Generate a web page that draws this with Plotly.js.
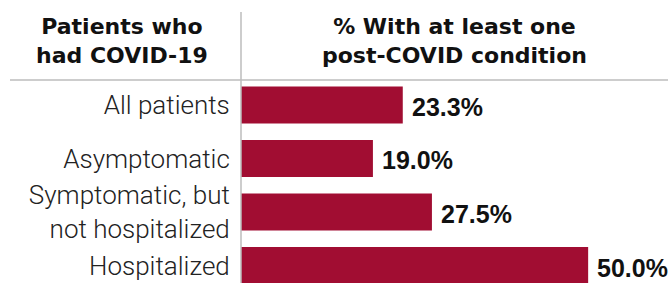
<!DOCTYPE html>
<html>
<head>
<meta charset="utf-8">
<script src="https://cdn.plot.ly/plotly-3.0.1.min.js"></script>
<style>html,body{margin:0;padding:0;background:#fff;}#chart{width:668px;height:283px;}</style>
</head>
<body>
<div id="chart"></div>
<script>
const categories = ["All patients", "Asymptomatic", "Symptomatic, but<br>not hospitalized", "Hospitalized"];
const values = [23.3, 19.0, 27.5, 50.0];
const valueLabels = ["23.3%", "19.0%", "27.5%", "50.0%"];
const leftHeader = "Patients who<br>had COVID-19";
const rightHeader = "% With at least one<br>post-COVID condition";

const barColor = "#A10D32";
const lineColor = "#bcbcbc";

const trace = {
  type: "bar",
  orientation: "h",
  x: values,
  y: categories,
  width: 0.69,
  marker: {color: barColor, line: {width: 0}},
  hoverinfo: "none"
};

const annotations = values.map((v, i) => ({
  x: v, y: categories[i], xref: "x", yref: "y",
  text: "<b>" + valueLabels[i] + "</b>",
  showarrow: false, xanchor: "left", yanchor: "middle", xshift: 7, yshift: -2,
  font: {family: "Liberation Sans, Arial, sans-serif", size: 25, color: "#111"}
}));

const headerFont = {family: "DejaVu Sans, sans-serif", size: 22, color: "#111"};
annotations.push({
  x: -0.278, y: 1, xref: "paper", yref: "paper",
  text: "<b>" + leftHeader + "</b>", showarrow: false,
  xanchor: "center", yanchor: "middle", yshift: 39, align: "center",
  font: headerFont
});
annotations.push({
  x: 0.501, y: 1, xref: "paper", yref: "paper",
  text: "<b>" + rightHeader + "</b>", showarrow: false,
  xanchor: "center", yanchor: "middle", yshift: 39, align: "center",
  font: headerFont
});

const layout = {
  width: 668, height: 283,
  margin: {l: 241, r: 0, t: 80, b: 0, pad: 0},
  paper_bgcolor: "#fff", plot_bgcolor: "#fff",
  showlegend: false,
  xaxis: {range: [0, 61.5], visible: false, fixedrange: true},
  yaxis: {
    type: "category",
    range: [3.327, -0.467],
    showgrid: false, zeroline: false, showline: false,
    ticks: "outside", ticklen: 5, tickcolor: "rgba(0,0,0,0)",
    tickfont: {family: "Roboto, Liberation Sans, sans-serif", size: 26, color: "#222", weight: 300},
    fixedrange: true
  },
  shapes: [
    {type: "line", xref: "paper", yref: "paper", x0: 0, x1: 0, y0: 0, y1: 1.335,
     line: {color: lineColor, width: 1.5}},
    {type: "line", xref: "paper", yref: "paper", x0: -0.541, x1: 1, y0: 1, y1: 1,
     line: {color: lineColor, width: 1.5}}
  ],
  annotations: annotations
};

Plotly.newPlot("chart", [trace], layout, {displayModeBar: false, staticPlot: true});
</script>
</body>
</html>
